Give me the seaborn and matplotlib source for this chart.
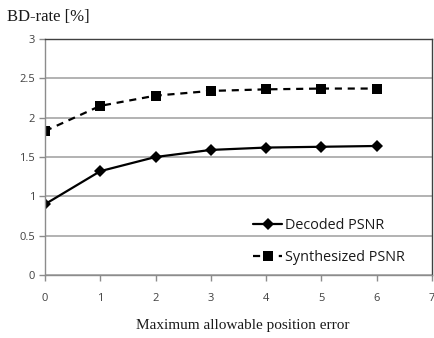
import matplotlib
matplotlib.use("Agg")
import matplotlib.pyplot as plt
import seaborn as sns
import pandas as pd
from matplotlib.lines import Line2D

x_vals = [0, 1, 2, 3, 4, 5, 6]
decoded = [0.90, 1.32, 1.50, 1.59, 1.62, 1.63, 1.64]
synthesized = [1.83, 2.15, 2.28, 2.34, 2.36, 2.37, 2.37]
series_names = ["Decoded PSNR", "Synthesized PSNR"]
x_ticks = [0, 1, 2, 3, 4, 5, 6, 7]
y_ticks = [0, 0.5, 1, 1.5, 2, 2.5, 3]

df = pd.DataFrame({
    "x": x_vals * 2,
    "y": decoded + synthesized,
    "series": [series_names[0]] * len(x_vals) + [series_names[1]] * len(x_vals),
})

sns.set_style("white")
plt.rcParams["font.family"] = ["Open Sans", "DejaVu Sans"]

fig = plt.figure(figsize=(4.34, 3.38), dpi=100)
ax = fig.add_axes([45 / 434, 63 / 338, 387 / 434, 236 / 338])

dash = (3.2, 2.6)
sns.lineplot(
    data=df, x="x", y="y", hue="series", style="series",
    markers={series_names[0]: "D", series_names[1]: "s"},
    dashes={series_names[0]: "", series_names[1]: dash},
    palette={series_names[0]: "black", series_names[1]: "black"},
    linewidth=1.6, ax=ax, legend=False,
)
msizes = [6, 7]
for line, ms in zip(ax.lines, msizes):
    line.set_markersize(ms)
    line.set_markeredgewidth(0)

ax.set_xlim(0, 7)
ax.set_ylim(0, 3)
ax.set_xticks(x_ticks)
ax.set_yticks(y_ticks)
ax.set_yticklabels([f"{v:g}" for v in y_ticks])
ax.yaxis.grid(True, color="#a6a6a6", linewidth=1.2)
ax.xaxis.grid(False)
ax.tick_params(axis="both", which="both", length=4, width=1, color="#8c8c8c",
               labelsize=8, labelcolor="#404040", direction="out", bottom=True, left=True)
ax.tick_params(axis="x", pad=9)
ax.tick_params(axis="y", pad=3)
for side in ["left", "bottom"]:
    ax.spines[side].set_color("#8c8c8c")
    ax.spines[side].set_linewidth(1)
for side in ["top", "right"]:
    ax.spines[side].set_color("#404040")
    ax.spines[side].set_linewidth(1)
ax.set_xlabel("")
ax.set_ylabel("")

handles = [
    Line2D([], [], color="black", linewidth=1.6, marker="D", markersize=msizes[0], markeredgewidth=0),
    Line2D([], [], color="black", linewidth=1.6, marker="s", markersize=msizes[1], markeredgewidth=0,
           dashes=dash),
]
leg = ax.legend(handles, series_names, loc="lower right",
                bbox_to_anchor=(405 / 434, (338 - 265) / 338), bbox_transform=fig.transFigure,
                frameon=False, fontsize=10.4, handlelength=2.0, handletextpad=0.2,
                labelspacing=1.2, borderaxespad=0, borderpad=0)
for t in leg.get_texts():
    t.set_color("#1a1a1a")

fig.text(7 / 434, 1 - 17 / 338, "BD-rate [%]", fontsize=12, family="Liberation Serif",
         ha="left", va="center", color="#1a1a1a")
fig.text(243 / 434, 1 - 325 / 338, "Maximum allowable position error", fontsize=11,
         family="Liberation Serif", ha="center", va="center", color="#1a1a1a")

fig.savefig("out.png", dpi=100)
